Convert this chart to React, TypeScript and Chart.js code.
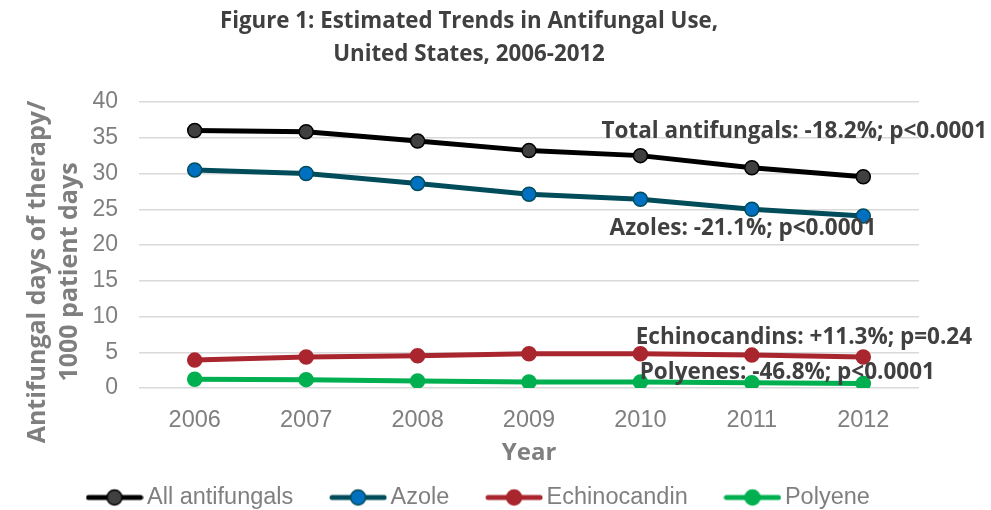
import React, { useEffect, useRef } from 'react';
import { Chart, registerables } from 'chart.js';

Chart.register(...registerables);

// ---------- data ----------
const years = ['2006', '2007', '2008', '2009', '2010', '2011', '2012'];
const seriesNames = ['All antifungals', 'Azole', 'Echinocandin', 'Polyene'];
const allAntifungals = [36.0, 35.85, 34.55, 33.2, 32.5, 30.8, 29.55];
const azole = [30.5, 30.0, 28.6, 27.1, 26.4, 25.0, 24.05];
const echinocandin = [3.9, 4.35, 4.5, 4.8, 4.8, 4.6, 4.35];
const polyene = [1.22, 1.17, 0.98, 0.85, 0.85, 0.75, 0.62];
const yMin = 0;
const yMax = 40;
const yStep = 5;

const titleLines = ['Figure 1: Estimated Trends in Antifungal Use,', 'United States, 2006-2012'];
const yTitleLines = ['Antifungal days of therapy/', '1000 patient days'];
const xTitle = 'Year';

// annotation texts and their anchors (category index, value at text baseline)
const annotationTexts = [
  'Total antifungals: -18.2%; p<0.0001',
  'Azoles: -21.1%; p<0.0001',
  'Echinocandins: +11.3%; p=0.24',
  'Polyenes: -46.8%; p<0.0001',
];
const annotationIndex = [5.381, 4.92, 5.467, 5.318];
const annotationValue = [34.97, 21.4, 6.22, 1.32];

// ---------- styles ----------
const lineColors = ['#000000', '#004c5a', '#a9262f', '#00b050'];
const pointFills = ['#404040', '#0070c0', '#a9262f', '#00b050'];
const pointBorders = ['#000000', '#004c5a', '#a9262f', '#00b050'];

const TICK_FONT = 'Liberation Sans';
const BOLD_FONT = 'Open Sans';
const GRAY = '#7f7f7f';
const DARK = '#404040';
const LEGEND_FONT_SIZE = 23.5;
const LEGEND_PAD = 44;
const LEGEND_BOX_W = 41.5;
const LEGEND_START_X = 93.75;
const LEGEND_CENTER_Y = 497.5;

function makeMarker(line: string, fill: string, border: string) {
  const c = document.createElement('canvas');
  c.width = 58;
  c.height = 20;
  const ctx = c.getContext('2d')!;
  ctx.strokeStyle = line;
  ctx.lineWidth = 5;
  ctx.lineCap = 'round';
  ctx.beginPath();
  ctx.moveTo(3, 10);
  ctx.lineTo(55, 10);
  ctx.stroke();
  ctx.beginPath();
  ctx.arc(29, 10, 7.5, 0, Math.PI * 2);
  ctx.fillStyle = fill;
  ctx.fill();
  ctx.lineWidth = 1.5;
  ctx.strokeStyle = border;
  ctx.stroke();
  return c;
}

// place the legend row (the legend clips to its own box, so only its top is moved up)
const legendShift = {
  id: 'legendShift',
  afterLayout(chart: any) {
    const lg = chart.legend;
    if (!lg || !lg.lineWidths) return;
    const pad = lg.options.labels.padding;
    const ih = LEGEND_FONT_SIZE;
    lg.top = LEGEND_CENTER_Y - pad - ih / 2;
    const start = (lg.left + pad + lg.right - lg.lineWidths[0]) / 2;
    const dx = LEGEND_START_X - start;
    lg.left += dx;
    lg.right += dx;
  },
};

const textOverlay = {
  id: 'textOverlay',
  afterDatasetsDraw(chart: any) {
    const ctx = chart.ctx;
    const xs = chart.scales.x;
    const ys = chart.scales.y;
    ctx.save();
    ctx.fillStyle = DARK;
    ctx.font = `bold 22.5px "${BOLD_FONT}"`;
    ctx.textAlign = 'center';
    ctx.textBaseline = 'alphabetic';
    annotationTexts.forEach((t, i) => {
      ctx.fillText(t, xs.getPixelForValue(annotationIndex[i]), ys.getPixelForValue(annotationValue[i]));
    });
    ctx.restore();
  },
  afterDraw(chart: any) {
    const ctx = chart.ctx;
    ctx.save();
    // main title
    ctx.fillStyle = DARK;
    ctx.font = `bold 22.3px "${BOLD_FONT}"`;
    ctx.textAlign = 'center';
    ctx.textBaseline = 'alphabetic';
    ctx.fillText(titleLines[0], 469, 28);
    ctx.fillText(titleLines[1], 469, 61);
    // y-axis title
    ctx.fillStyle = GRAY;
    ctx.font = `bold 25px "${BOLD_FONT}"`;
    const base = [45, 77];
    yTitleLines.forEach((t, i) => {
      ctx.save();
      ctx.translate(base[i], 272);
      ctx.rotate(-Math.PI / 2);
      ctx.fillText(t, 0, 0);
      ctx.restore();
    });
    ctx.restore();
  },
};

export default function App() {
  const ref = useRef<HTMLCanvasElement>(null);
  useEffect(() => {
    document.body.style.margin = '0';
    document.body.style.overflow = 'hidden';
    const canvas = ref.current!;
    const markers = seriesNames.map((_, i) => makeMarker(lineColors[i], pointFills[i], pointBorders[i]));
    const values = [allAntifungals, azole, echinocandin, polyene];
    const chart = new Chart(canvas, {
      type: 'line',
      data: {
        labels: years,
        datasets: seriesNames.map((name, i) => ({
          label: name,
          data: values[i],
          borderColor: lineColors[i],
          backgroundColor: pointFills[i],
          pointBackgroundColor: pointFills[i],
          pointBorderColor: pointBorders[i],
          pointRadius: 7,
          pointBorderWidth: 1.5,
          borderWidth: 5,
          tension: 0,
          fill: false,
        })),
      },
      options: {
        responsive: false,
        devicePixelRatio: 1,
        animation: false,
        events: [],
        layout: { padding: { top: 102, right: 72, left: 0, bottom: 0 } },
        scales: {
          x: {
            type: 'category',
            offset: true,
            grid: { display: false },
            border: { display: false },
            ticks: {
              color: GRAY,
              font: { family: TICK_FONT, size: 23.5 },
              padding: 10,
              maxRotation: 0,
            },
            title: {
              display: true,
              text: xTitle,
              color: GRAY,
              font: { family: BOLD_FONT, size: 24, weight: 'bold' },
              padding: { top: 0, bottom: 12.5 },
            },
            afterFit(scale: any) {
              scale.height = 92;
            },
          },
          y: {
            min: yMin,
            max: yMax,
            grid: { color: '#d9d9d9', lineWidth: 1.5, drawTicks: false },
            border: { display: false },
            ticks: {
              stepSize: yStep,
              color: GRAY,
              font: { family: TICK_FONT, size: 23 },
              padding: 21,
            },
            afterFit(scale: any) {
              scale.width = 139;
            },
          },
        },
        plugins: {
          title: { display: false },
          tooltip: { enabled: false },
          legend: {
            display: true,
            position: 'bottom',
            maxHeight: 30,
            labels: {
              usePointStyle: true,
              pointStyleWidth: LEGEND_BOX_W,
              padding: LEGEND_PAD,
              color: GRAY,
              font: { family: TICK_FONT, size: LEGEND_FONT_SIZE },
              generateLabels(ch: any) {
                const items = (Chart.defaults.plugins.legend.labels as any).generateLabels(ch);
                return items.map((it: any) => ({ ...it, pointStyle: markers[it.datasetIndex], fontColor: GRAY }));
              },
            },
          },
        },
      },
      plugins: [legendShift, textOverlay],
    } as any);
    return () => chart.destroy();
  }, []);
  return (
    <div style={{ width: 991, height: 510 }}>
      <canvas ref={ref} width={991} height={510} style={{ display: 'block' }} />
    </div>
  );
}
